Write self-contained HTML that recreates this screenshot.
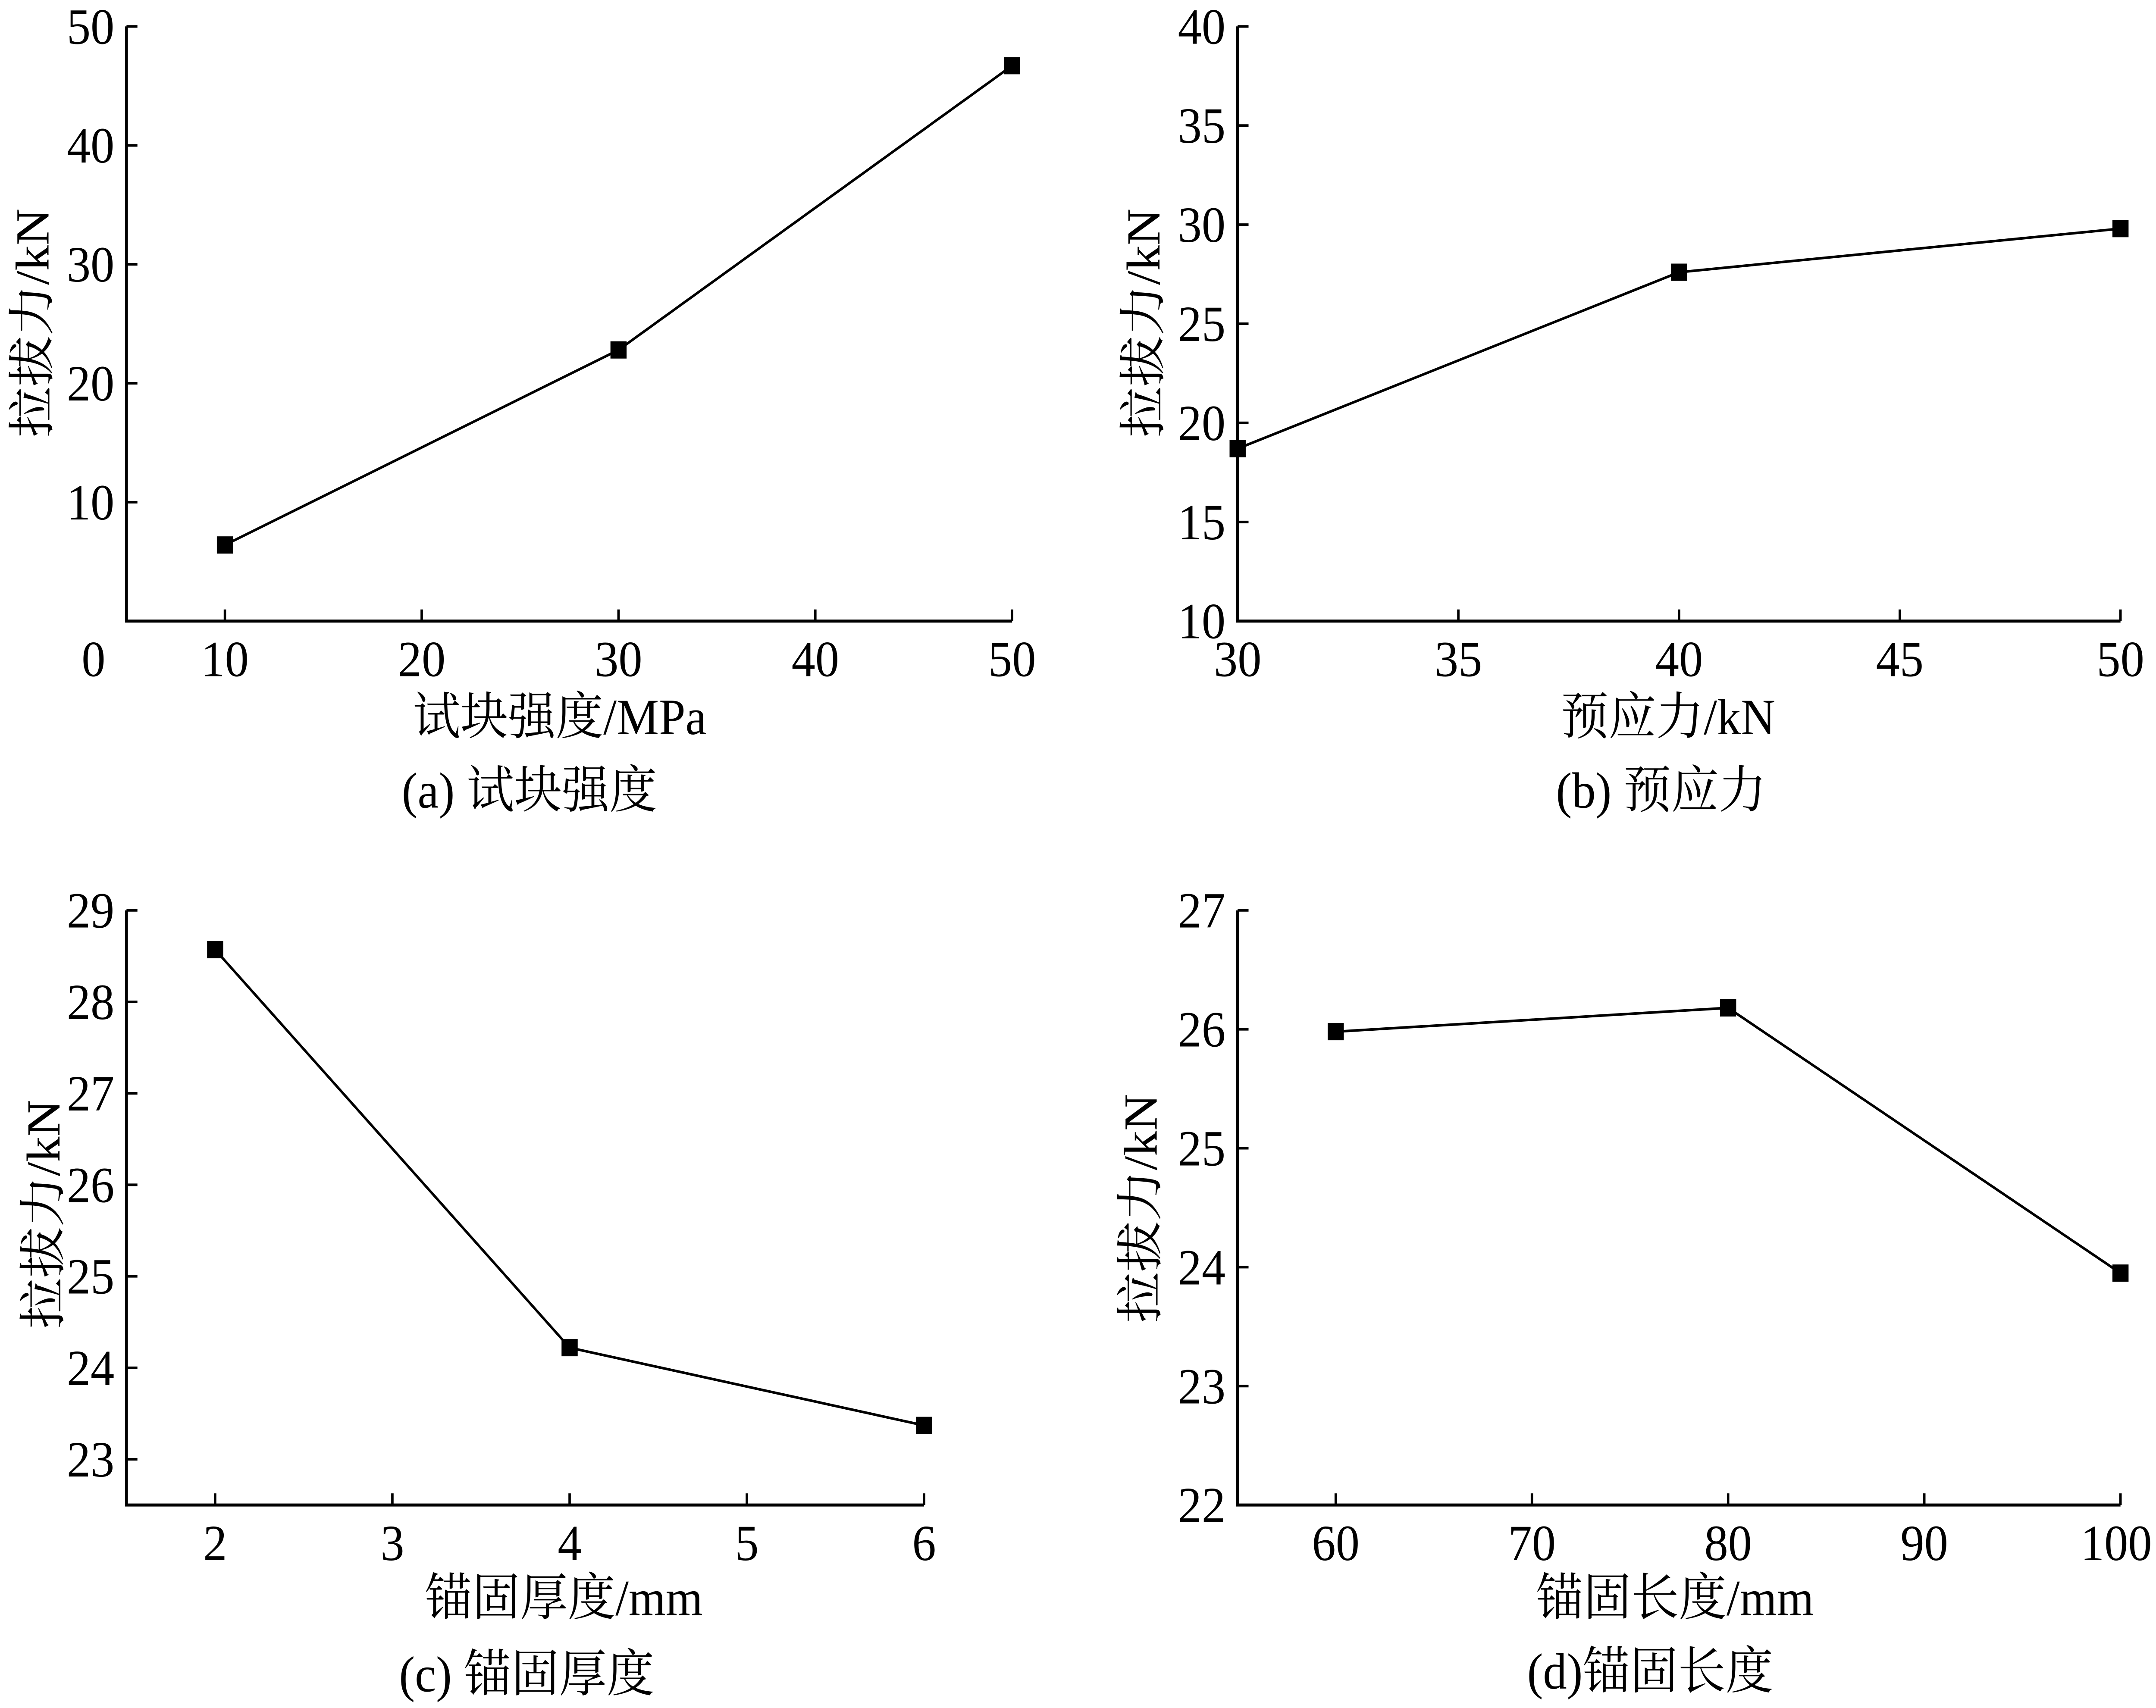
<!DOCTYPE html>
<html><head><meta charset="utf-8"><style>
html,body{margin:0;padding:0;background:#fff;overflow:hidden;width:100vw;height:100vh}
svg{display:block;width:100vw;height:100vh}
text{font-family:"Liberation Serif","Noto Serif CJK SC","Noto Sans CJK SC",serif;fill:#000}
</style></head><body>
<svg id="chart" xmlns="http://www.w3.org/2000/svg" viewBox="0 0 5340 3962" preserveAspectRatio="none" overflow="hidden">
<rect width="5340" height="3962" fill="#fff"/>
</svg>
<script>
// Panel (a)
const aX = [10, 30, 50];
const aY = [6.4, 22.8, 46.7];
const aXTicks = [10, 20, 30, 40, 50];
const aYTicks = [10, 20, 30, 40, 50];
// Panel (b)
const bX = [30, 40, 50];
const bY = [18.7, 27.6, 29.8];
const bXTicks = [30, 35, 40, 45, 50];
const bYTicks = [10, 15, 20, 25, 30, 35, 40];
// Panel (c)
const cX = [2, 4, 6];
const cY = [28.57, 24.22, 23.37];
const cXTicks = [2, 3, 4, 5, 6];
const cYTicks = [23, 24, 25, 26, 27, 28, 29];
// Panel (d)
const dX = [60, 80, 100];
const dY = [25.98, 26.18, 23.95];
const dXTicks = [60, 70, 80, 90, 100];
const dYTicks = [22, 23, 24, 25, 26, 27];

const S = 3.406;
const NS = "http://www.w3.org/2000/svg";
const svg = document.getElementById('chart');
const FS = 118;

function mk(tag, attrs, parent){
  const e = document.createElementNS(NS, tag);
  for (const k in attrs) e.setAttribute(k, attrs[k]);
  (parent || svg).appendChild(e);
  return e;
}

const panels = [
  {id:'a', xs:aX, ys:aY, xt:aXTicks, yt:aYTicks, L:92, R:736, T:18, B:423, xmin:5, xmax:50, ymin:0, ymax:50,
   xtitle:'试块强度/MPa', xtx:407, cap:'(a)  试块强度', capx:385, capy:550, ytx:22, yty:220, zero:true, titley:500},
  {id:'b', xs:bX, ys:bY, xt:bXTicks, yt:bYTicks, L:900, R:1542, T:18, B:423, xmin:30, xmax:50, ymin:10, ymax:40,
   xtitle:'预应力/kN', xtx:1213, cap:'(b)  预应力', capx:1208, capy:550, ytx:830, yty:220, titley:500},
  {id:'c', xs:cX, ys:cY, xt:cXTicks, yt:cYTicks, L:92, R:672, T:620, B:1025, xmin:1.5, xmax:6, ymin:22.5, ymax:29,
   xtitle:'锚固厚度/mm', xtx:410, cap:'(c)  锚固厚度', capx:383, capy:1152, ytx:30, yty:827, titley:1100},
  {id:'d', xs:dX, ys:dY, xt:dXTicks, yt:dYTicks, L:900, R:1542, T:620, B:1025, xmin:55, xmax:100, ymin:22, ymax:27,
   xtitle:'锚固长度/mm', xtx:1218, cap:'(d)锚固长度', capx:1200, capy:1150, ytx:828, yty:823, titley:1100}
];

panels.forEach(p => {
  const L = p.L*S, R = p.R*S, T = p.T*S, B = p.B*S;
  const xs = v => L + (v - p.xmin)/(p.xmax - p.xmin)*(R - L);
  const ys = v => B - (v - p.ymin)/(p.ymax - p.ymin)*(B - T);
  const g = mk('g', {});
  
  

  const ax = mk('path', {d:`M${L},${T} L${L},${B} L${R},${B}`, fill:'none', stroke:'#000', 'stroke-width':7}, g);
  
  

  p.yt.forEach(v => {
    const y = ys(v);
    const t = mk('line', {x1:L, y1:y, x2:L+27, y2:y, stroke:'#000', 'stroke-width':6}, g);
    
    
    const lb = mk('text', {x:L-30, y:y+40, 'font-size':FS, 'text-anchor':'end'}, g);
    lb.textContent = v;
    
    
  });
  p.xt.forEach(v => {
    const x = xs(v);
    const t = mk('line', {x1:x, y1:B, x2:x, y2:B-27, stroke:'#000', 'stroke-width':6}, g);
    
    
    const tx = Math.min(x, 5330 - String(v).length * FS * 0.25);
    const lb = mk('text', {x:tx, y:B+128, 'font-size':FS, 'text-anchor':'middle'}, g);
    lb.textContent = v;
    
    
  });
  if (p.zero) {
    const z = mk('text', {x:68*S, y:B+128, 'font-size':FS, 'text-anchor':'middle'}, g);
    z.textContent = '0';
    
    
  }
  const pts = p.xs.map((v,i) => `${xs(v)},${ys(p.ys[i])}`).join(' ');
  const ln = mk('polyline', {points:pts, fill:'none', stroke:'#000', 'stroke-width':6}, g);
  
  
  p.xs.forEach((v,i) => {
    const m = mk('rect', {x:xs(v)-20, y:ys(p.ys[i])-20, width:40, height:40, fill:'#000'}, g);
    
    
  });
  const xt = mk('text', {x:p.xtx*S, y:p.titley*S, 'font-size':FS, 'text-anchor':'middle'}, g);
  xt.textContent = p.xtitle;
  
  
  const yt = mk('text', {x:0, y:0, 'font-size':FS, 'text-anchor':'middle', transform:`translate(${p.ytx*S+45},${p.yty*S}) rotate(-90)`}, g);
  yt.textContent = '拉拔力/kN';
  
  
  const cp = mk('text', {x:p.capx*S, y:p.capy*S, 'font-size':FS, 'text-anchor':'middle'}, g);
  cp.textContent = p.cap;
  
  
});
</script>
</body></html>
